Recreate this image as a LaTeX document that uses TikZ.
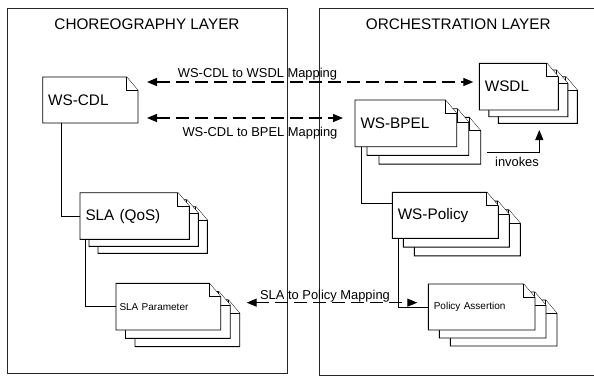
\documentclass[tikz,border=0pt]{standalone}
\usepackage{fontspec}
\setmainfont{Liberation Sans}
\usetikzlibrary{arrows.meta,backgrounds,calc}
\newcommand\dogx{11.5}
\newcommand\dogy{13.5}
\newcommand\pageat[3]{%
  \filldraw[pageline] ([shift={(#2,#3)}]#1.south west) -- ([shift={(#2,#3)}]#1.north west) -- ([shift={(#2-\dogx,#3)}]#1.north east) -- ([shift={(#2,#3+\dogy)}]#1.north east) -- ([shift={(#2,#3)}]#1.south east) -- cycle;
  \draw[pageline] ([shift={(#2-\dogx,#3)}]#1.north east) -- ([shift={(#2-\dogx,#3+\dogy)}]#1.north east) -- ([shift={(#2,#3+\dogy)}]#1.north east);}
\newcommand\docstack[3]{\begin{pgfonlayer}{background}\pageat{#1}{2*#2}{2*#3}\pageat{#1}{#2}{#3}\pageat{#1}{0}{0}\end{pgfonlayer}}
\newcommand\docsingle[1]{\begin{pgfonlayer}{background}\pageat{#1}{0}{0}\end{pgfonlayer}}
\begin{document}
\begin{tikzpicture}[x=1pt,y=-1pt,
  pageline/.style={draw=black,fill=white,line width=0.9pt},
  layerbox/.style={draw=black!85,line width=0.9pt,anchor=north west,inner sep=0pt,outer sep=0pt},
  title/.style={font=\fontsize{15.3}{18}\selectfont,inner sep=0pt},
  doc/.style={anchor=north west,inner ysep=0pt,inner xsep=5.5pt,outer sep=0pt,align=left,font=\fontsize{15.3}{18}\selectfont},
  smalldoc/.style={doc,font=\fontsize{10}{12}\selectfont},
  lbl/.style={font=\fontsize{12.9}{15}\selectfont,inner sep=0pt},
  conn/.style={draw=black,line width=0.9pt},
  map/.style={draw=black,line width=1.3pt,dash pattern=on 13pt off 6pt,{Triangle[length=10pt,width=8pt]}-{Triangle[length=10pt,width=8pt]}}]
\useasboundingbox (0,0) rectangle (594,376);
\begin{pgfonlayer}{background}
\node[layerbox,minimum width=280pt,minimum height=365pt] (chorbox) at (7,8) {};
\node[layerbox,minimum width=279pt,minimum height=367pt] (orchbox) at (319,8) {};
\end{pgfonlayer}
\node[title,anchor=base] (chortitle) at (147,29.3) {CHOREOGRAPHY LAYER};
\node[title,anchor=base] (orchtitle) at (458.3,29.3) {ORCHESTRATION LAYER};
% documents
\node[doc,text width=84.3pt,minimum height=46pt] (cdl) at (42.7,77) {WS-CDL};
\docsingle{cdl}
\node[doc,text width=68pt,minimum height=46.7pt] (wsdl) at (479.3,63.3) {WSDL};
\docstack{wsdl}{9.5}{6.7}
\node[doc,text width=90.7pt,minimum height=46.7pt] (bpel) at (355,100) {WS-BPEL};
\docstack{bpel}{12}{8.7}
\node[doc,text width=95pt,minimum height=46pt] (pol) at (392.3,192.3) {WS-Policy};
\docstack{pol}{11}{8.8}
\node[smalldoc,text width=95.7pt,minimum height=46pt] (pa) at (428.3,284) {Policy Assertion};
\docstack{pa}{11}{8}
\node[doc,text width=98.3pt,minimum height=46.7pt] (sla) at (80,192.7) {SLA (QoS)};
\docstack{sla}{9}{7}
\node[smalldoc,inner xsep=3.5pt,text width=97.7pt,minimum height=46.7pt] (slap) at (116,283.3) {SLA Parameter};
\docstack{slap}{9.5}{8.3}
% tree connectors
\draw[conn] ([xshift=19pt]cdl.south west) |- (sla.west);
\draw[conn] ([xshift=5pt]sla.south west) |- (slap.west);
\draw[conn] ([xshift=6pt]bpel.south west) |- ([yshift=-11pt]pol.north west);
\draw[conn] ([xshift=6pt]pol.south west) |- (pa.west);
% mappings
\coordinate (m1) at ([yshift=-5pt]cdl.north east);
\draw[map,shorten <=9pt,shorten >=6pt] (m1) -- (m1 -| wsdl.west);
\coordinate (m2) at ([yshift=5pt]cdl.south east);
\draw[map,shorten <=9pt,shorten >=12pt] (m2) -- (m2 -| bpel.west);
\coordinate (m3) at ([yshift=4pt]slap.east);
\draw[map,shorten <=26pt,shorten >=11pt] (m3) -- (m3 -| pa.west);
\node[lbl,anchor=base] (l1) at (257.5,77.3) {WS-CDL to WSDL Mapping};
\node[lbl,anchor=base] (l2) at (260,136) {WS-CDL to BPEL Mapping};
\node[lbl,anchor=base] (l3) at (325,299) {SLA to Policy Mapping};
% invokes
\coordinate (inv) at ([shift={(30.3,5.3)}]bpel.south east);
\draw[conn,-{Triangle[length=10pt,width=8pt]}] (inv) -| ([shift={(60,20)}]wsdl.south west);
\node[lbl,anchor=base] (invlbl) at (517,166.7) {invokes};
\end{tikzpicture}
\end{document}
